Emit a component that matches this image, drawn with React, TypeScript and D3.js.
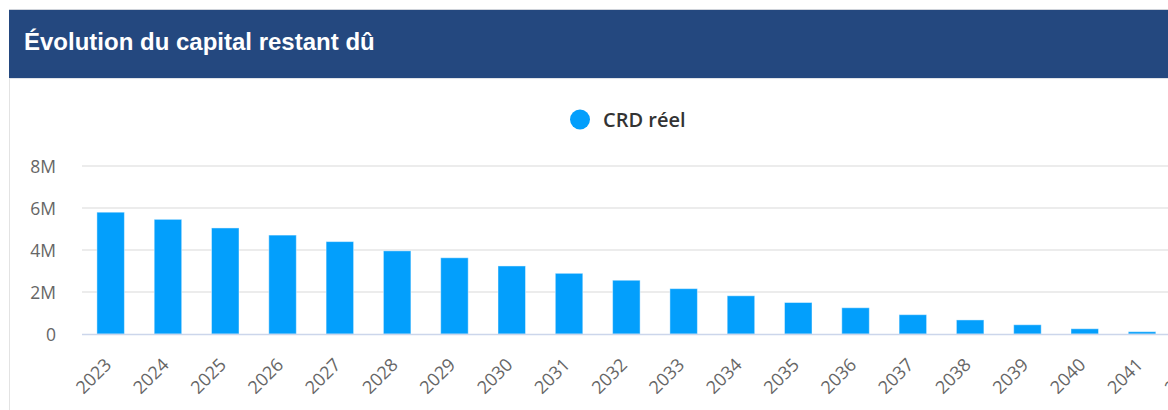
import React from 'react';
import * as d3 from 'd3';

const years = [
  '2023', '2024', '2025', '2026', '2027', '2028', '2029', '2030', '2031', '2032',
  '2033', '2034', '2035', '2036', '2037', '2038', '2039', '2040', '2041', '2042',
];
// capital restant dû, in millions
const crdReel = [
  5.8, 5.46, 5.05, 4.71, 4.4, 3.96, 3.63, 3.24, 2.89, 2.56,
  2.16, 1.82, 1.5, 1.25, 0.92, 0.67, 0.44, 0.25, 0.11, 0.02,
];
const yTicks = [0, 2, 4, 6, 8];
const title = 'Évolution du capital restant dû';
const seriesName = 'CRD réel';

const W = 1168;
const H = 410;
const barColor = '#039ffc';
const font = "'Open Sans', 'Noto Sans', sans-serif";

export default function App() {
  const x = d3
    .scaleBand<string>()
    .domain(years)
    .range([82, 1228])
    .paddingInner(0.52)
    .paddingOuter(0.26);

  const y = d3.scaleLinear().domain([0, 8]).range([334, 166]);

  const fmt = (v: number) => (v === 0 ? '0' : `${v}M`);

  return (
    <svg
      width={W}
      height={H}
      style={{ position: 'absolute', left: 0, top: 0, background: '#fff' }}
    >
      {/* card */}
      <line x1={9.5} x2={9.5} y1={78} y2={H} stroke="#e3e3e3" />
      <rect x={9} y={10} width={W} height={68} fill="#24487f" />
      <line x1={9} x2={W} y1={9.5} y2={9.5} stroke="#cfd3da" />
      <line x1={9} x2={W} y1={78.5} y2={78.5} stroke="#dfe2e8" />
      <text
        x={24}
        y={50}
        fill="#fff"
        fontFamily="'Liberation Sans', Arial, sans-serif"
        fontWeight="bold"
        fontSize={24}
      >
        {title}
      </text>

      {/* legend */}
      <circle cx={580} cy={119.5} r={10} fill={barColor} />
      <text x={603} y={127} fontFamily={font} fontWeight={600} fontSize={20} fill="#333">
        {seriesName}
      </text>

      {/* grid + y axis */}
      {yTicks.map((t) => (
        <g key={t}>
          {t > 0 && (
            <line x1={82} x2={1228} y1={y(t)} y2={y(t)} stroke="#e6e6e6" strokeWidth={1.5} />
          )}
          <text
            x={56}
            y={y(t) + 7}
            textAnchor="end"
            fontFamily={font}
            fontSize={17.5}
            fill="#666"
          >
            {fmt(t)}
          </text>
        </g>
      ))}

      {/* bars */}
      {years.map((yr, i) => (
        <rect
          key={yr}
          x={x(yr)}
          y={y(crdReel[i])}
          width={x.bandwidth()}
          height={y(0) - y(crdReel[i])}
          fill={barColor}
          stroke="#fff"
          strokeOpacity={0.45}
          strokeWidth={1}
        />
      ))}

      <line x1={82} x2={1228} y1={334.5} y2={334.5} stroke="#ccd6eb" strokeWidth={1.5} />

      {/* x axis labels */}
      {years.map((yr) => {
        const cx = (x(yr) ?? 0) + x.bandwidth() / 2 + 2;
        return (
          <text
            key={yr}
            transform={`translate(${cx},366) rotate(-45)`}
            textAnchor="end"
            fontFamily={font}
            fontSize={18}
            fill="#666"
          >
            {yr}
          </text>
        );
      })}
    </svg>
  );
}
